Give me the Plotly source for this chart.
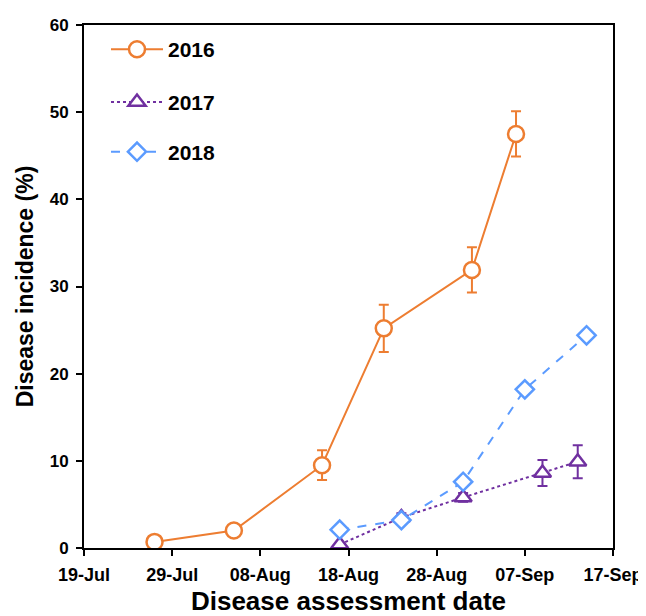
import plotly.graph_objects as go

dates_2016 = ["2020-07-27", "2020-08-05", "2020-08-15", "2020-08-22", "2020-09-01", "2020-09-06"]
vals_2016 = [0.7, 2.0, 9.5, 25.2, 31.9, 47.5]
err_2016 = [0, 0, 1.7, 2.7, 2.6, 2.6]

dates_2017 = ["2020-08-17", "2020-08-24", "2020-08-31", "2020-09-09", "2020-09-13"]
vals_2017 = [0.4, 3.5, 5.8, 8.6, 9.9]
err_2017 = [0, 0.5, 0.5, 1.5, 1.9]

dates_2018 = ["2020-08-17", "2020-08-24", "2020-08-31", "2020-09-07", "2020-09-14"]
vals_2018 = [2.1, 3.2, 7.6, 18.2, 24.4]
err_2018 = [0.3, 0.3, 0.4, 0.5, 0.5]

x_ticks = ["2020-07-19", "2020-07-29", "2020-08-08", "2020-08-18", "2020-08-28", "2020-09-07", "2020-09-17"]
x_labels = ["19-Jul", "29-Jul", "08-Aug", "18-Aug", "28-Aug", "07-Sep", "17-Sep"]
y_ticks = [0, 10, 20, 30, 40, 50, 60]

FONT = "Liberation Sans, Arial, sans-serif"
ORANGE = "#ED7D31"
PURPLE = "#7030A0"
BLUE = "#5B9BFF"

fig = go.Figure()
fig.add_trace(go.Scatter(
    x=dates_2016, y=vals_2016, name="<b>2016</b>", mode="lines+markers",
    line=dict(color=ORANGE, width=2),
    marker=dict(symbol="circle", size=16, color="white", line=dict(color=ORANGE, width=2.5)),
    error_y=dict(type="data", array=err_2016, color=ORANGE, thickness=2, width=5),
    legend="legend", showlegend=True,
))
fig.add_trace(go.Scatter(
    x=dates_2017, y=vals_2017, name="<b>2017</b>", mode="lines+markers",
    line=dict(color=PURPLE, width=2, dash="dot"),
    marker=dict(symbol="triangle-up", size=15, color="white", line=dict(color=PURPLE, width=2.5)),
    error_y=dict(type="data", array=err_2017, color=PURPLE, thickness=2, width=5),
    legend="legend2", showlegend=True,
))
fig.add_trace(go.Scatter(
    x=dates_2018, y=vals_2018, name="<b>2018</b>", mode="lines+markers",
    line=dict(color=BLUE, width=2, dash="dash"),
    marker=dict(symbol="diamond", size=14, color="white", line=dict(color=BLUE, width=2.5)),
    error_y=dict(type="data", array=err_2018, color=BLUE, thickness=2, width=5),
    legend="legend3", showlegend=True,
))

leg_common = dict(font=dict(family=FONT, size=21, color="black"), bgcolor="rgba(0,0,0,0)",
                  xanchor="left", yanchor="middle", x=0.0416, itemwidth=52)
fig.update_layout(
    width=638, height=608,
    margin=dict(l=76, r=33, t=17, b=68),
    paper_bgcolor="white", plot_bgcolor="white",
    font=dict(family=FONT, color="black"),
    showlegend=True,
    legend=dict(**leg_common, y=0.953),
    legend2=dict(**leg_common, y=0.852),
    legend3=dict(**leg_common, y=0.757),
    xaxis=dict(
        type="date", range=["2020-07-19", "2020-09-17"],
        tickvals=x_ticks, ticktext=["<b>%s</b>" % t for t in x_labels],
        ticks="outside", ticklen=6, tickwidth=2, tickcolor="black",
        showline=True, linewidth=2, linecolor="black", mirror=True,
        showgrid=False, zeroline=False, automargin=False, ticklabelstandoff=3,
        tickfont=dict(family=FONT, size=18, color="black"),
        title=dict(text="<b>Disease assessment date</b>", font=dict(family=FONT, size=26, color="black"), standoff=12),
    ),
    yaxis=dict(
        range=[0, 60], tickvals=y_ticks, ticktext=["<b>%d</b>" % v for v in y_ticks],
        ticks="outside", ticklen=6, tickwidth=2, tickcolor="black",
        showline=True, linewidth=2, linecolor="black", mirror=True,
        showgrid=False, zeroline=False, automargin=False, ticklabelstandoff=4,
        tickfont=dict(family=FONT, size=17, color="black"),
        title=dict(text="<b>Disease incidence (%)</b>", font=dict(family=FONT, size=23, color="black"), standoff=10),
    ),
)

fig.write_html("out.html")
